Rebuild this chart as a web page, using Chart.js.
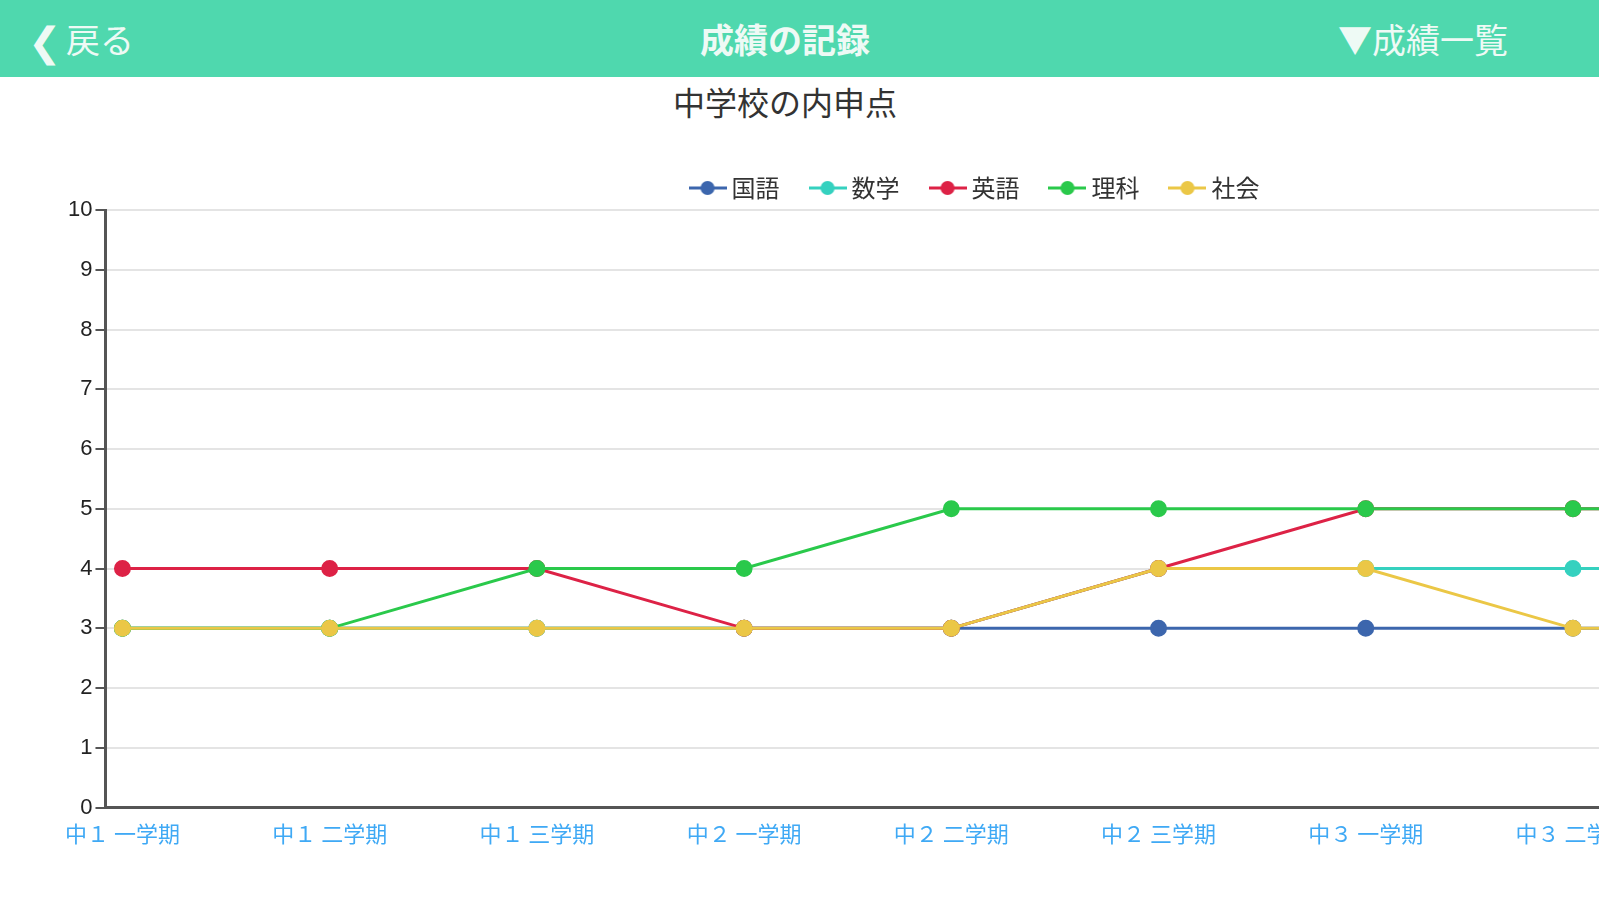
<!DOCTYPE html>
<html>
<head>
<meta charset="utf-8">
<script src="https://cdn.jsdelivr.net/npm/chart.js@4"></script>
<style>
  body { margin: 0; width: 1599px; height: 900px; overflow: hidden; background: #fff; font-family: "Noto Sans CJK JP", sans-serif; position: relative; }
  #bar { position: absolute; left: 0; top: 0; width: 1599px; height: 77px; background: #4fd8ae; color: #eefaf5; font-size: 34px; }
  #bar span { position: absolute; top: 14px; }
  #title { position: absolute; top: 78px; left: 0; width: 1570px; text-align: center; font-size: 32px; color: #333; }
  #wrap { position: absolute; left: 0; top: 140px; width: 1900px; height: 760px; }
</style>
</head>
<body>
<div id="bar">
  <span style="left:28px;font-size:40px;top:10px">&#x276E;</span>
  <span style="left:66px">戻る</span>
  <span style="left:0;width:1570px;text-align:center;font-weight:bold">成績の記録</span>
  <span style="left:1338px">▼成績一覧</span>
</div>
<div id="title">中学校の内申点</div>
<div id="wrap"><canvas id="chart"></canvas></div>
<script>
// data
const terms = ['中１ 一学期', '中１ 二学期', '中１ 三学期', '中２ 一学期', '中２ 二学期', '中２ 三学期', '中３ 一学期', '中３ 二学期', '中３ 三学期'];
const kokugo = [3, 3, 3, 3, 3, 3, 3, 3, 3];
const sugaku = [3, 3, 3, 3, 3, 4, 4, 4, 4];
const eigo = [4, 4, 4, 3, 3, 4, 5, 5, 5];
const rika = [3, 3, 4, 4, 5, 5, 5, 5, 5];
const shakai = [3, 3, 3, 3, 3, 4, 4, 3, 3];

// legend marker: short line with a dot
function marker(color) {
    const c = document.createElement('canvas');
    c.width = 38; c.height = 16;
    const g = c.getContext('2d');
    g.strokeStyle = color; g.lineWidth = 3;
    g.beginPath(); g.moveTo(0, 8); g.lineTo(38, 8); g.stroke();
    g.fillStyle = color;
    g.beginPath(); g.arc(19, 8, 7, 0, Math.PI * 2); g.fill();
    return c;
}

function series(label, vals, color, order) {
    return {
        label: label,
        data: vals.map((v, i) => ({ x: i, y: v })),
        borderColor: color,
        backgroundColor: color,
        borderWidth: 3,
        pointRadius: 7,
        pointHoverRadius: 7,
        order: order,
        legendMarker: marker(color)
    };
}

new Chart(document.getElementById('chart'), {
    type: 'line',
    data: {
        datasets: [
            series('国語', kokugo, '#3c66ad', 4),
            series('数学', sugaku, '#35d1bf', 3),
            series('英語', eigo, '#dd2246', 2),
            series('理科', rika, '#2ac94b', 1),
            series('社会', shakai, '#ebc746', 0)
        ]
    },
    options: {
        responsive: true,
        maintainAspectRatio: false,
        animation: false,
        layout: { padding: { left: 65, right: 10, bottom: 50 } },
        plugins: {
            legend: {
                labels: {
                    color: '#333',
                    font: { size: 24, family: 'Noto Sans CJK JP' },
                    usePointStyle: true,
                    padding: 36,
                    sort: (a, b) => a.datasetIndex - b.datasetIndex,
                    generateLabels: chart => chart.data.datasets.map((d, i) => ({
                        text: d.label,
                        datasetIndex: i,
                        pointStyle: d.legendMarker,
                        fontColor: '#333',
                        hidden: false,
                        lineWidth: 0
                    }))
                }
            },
            tooltip: { enabled: false }
        },
        scales: {
            x: {
                type: 'linear',
                min: -0.082,
                max: 8.53,
                afterBuildTicks: axis => { axis.ticks = terms.map((t, i) => ({ value: i })); },
                ticks: {
                    color: '#3fa9f5',
                    font: { size: 22, family: 'Noto Sans CJK JP' },
                    callback: v => terms[v],
                    maxRotation: 0,
                    autoSkip: false
                },
                grid: { display: false, drawOnChartArea: false, drawTicks: true, tickLength: 10, color: '#555' },
                border: { color: '#555', width: 3 }
            },
            y: {
                min: 0,
                max: 10,
                ticks: { stepSize: 1, color: '#222', font: { size: 22 } },
                grid: { color: '#e4e4e4', lineWidth: 2, tickLength: 10, tickColor: '#555' },
                border: { color: '#555', width: 3 }
            }
        }
    }
});
</script>
</body>
</html>
